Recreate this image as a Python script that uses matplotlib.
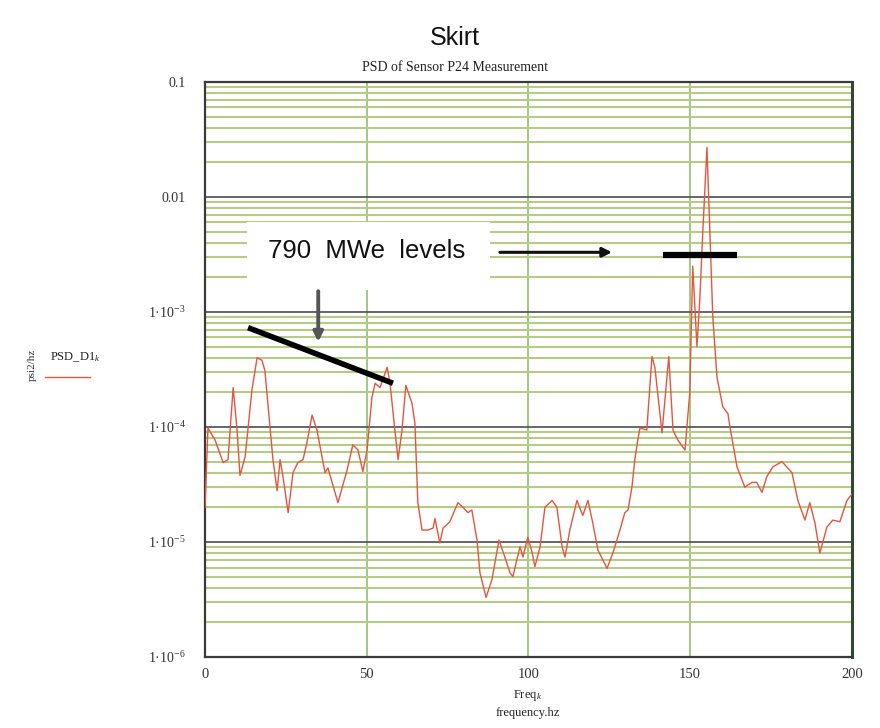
import numpy as np
import matplotlib
matplotlib.use("Agg")
import matplotlib.pyplot as plt
from matplotlib.lines import Line2D
from matplotlib.patches import Rectangle
from matplotlib.ticker import FixedLocator, FuncFormatter

plt.rcParams['font.family'] = ['Liberation Serif', 'DejaVu Serif']
plt.rcParams['mathtext.fontset'] = 'custom'
plt.rcParams['mathtext.rm'] = 'Liberation Serif'
plt.rcParams['mathtext.it'] = 'Liberation Serif:italic'

# PSD trace (frequency in hz, psi^2/hz)
freq = [0.0, 0.9, 3.1, 5.6, 7.1, 8.7, 9.9, 10.8, 12.4, 14.5, 16.1, 17.6, 18.5,
        20.1, 21.0, 22.3, 23.2, 24.1, 25.7, 27.2, 28.7, 30.3, 31.5, 33.1, 34.6,
        37.1, 38.0, 41.1, 43.9, 45.7, 47.3, 48.8, 50.1, 51.6, 52.6, 54.1, 56.3,
        57.2, 58.7, 59.7, 60.9, 62.1, 64.0, 64.9, 65.8, 67.1, 68.9, 70.5, 71.1,
        72.6, 73.6, 75.7, 78.2, 79.8, 81.3, 82.5, 84.1, 85.0, 86.9, 88.7, 90.9,
        92.7, 94.3, 95.2, 96.4, 97.4, 98.3, 99.8, 101.1, 102.0, 103.6, 105.1,
        107.3, 108.8, 110.4, 111.3, 112.8, 115.0, 116.8, 118.4, 119.9, 121.5,
        124.3, 126.1, 128.3, 129.8, 130.8, 132.0, 132.9, 133.8, 134.5, 136.6,
        138.2, 139.1, 141.3, 142.2, 143.4, 144.7, 146.2, 148.4, 149.9, 150.8,
        152.1, 153.0, 153.9, 155.2, 156.1, 157.0, 158.3, 160.1, 161.7, 162.3,
        164.5, 166.9, 169.1, 170.6, 172.2, 173.7, 175.6, 178.4, 181.5, 183.3,
        185.5, 187.0, 188.6, 190.1, 192.3, 194.1, 196.3, 198.5, 200.0]
psd = [2.0e-5, 9.8e-5, 7.7e-5, 4.9e-5, 5.2e-5, 2.2e-4, 9.4e-5, 3.8e-5, 5.5e-5,
       2.1e-4, 4.0e-4, 3.8e-4, 3.1e-4, 1.0e-4, 5.2e-5, 2.8e-5, 5.2e-5, 3.7e-5,
       1.8e-5, 4.0e-5, 4.9e-5, 5.2e-5, 7.3e-5, 1.27e-4, 9.4e-5, 4.0e-5, 4.4e-5,
       2.2e-5, 4.2e-5, 7.0e-5, 6.3e-5, 4.1e-5, 6.3e-5, 1.8e-4, 2.4e-4, 2.2e-4,
       3.3e-4, 2.4e-4, 9.4e-5, 5.2e-5, 9.4e-5, 2.3e-4, 1.6e-4, 1.08e-4, 2.2e-5,
       1.27e-5, 1.27e-5, 1.32e-5, 1.6e-5, 9.8e-6, 1.32e-5, 1.5e-5, 2.2e-5,
       2.0e-5, 1.8e-5, 1.9e-5, 1.04e-5, 5.4e-6, 3.3e-6, 4.7e-6, 1.04e-5, 7.4e-6,
       5.4e-6, 5.0e-6, 7.0e-6, 9.1e-6, 7.4e-6, 1.1e-5, 8.2e-6, 6.1e-6, 9.1e-6,
       2.0e-5, 2.3e-5, 2.0e-5, 9.1e-6, 7.4e-6, 1.27e-5, 2.3e-5, 1.7e-5, 2.3e-5,
       1.46e-5, 8.5e-6, 5.9e-6, 8.0e-6, 1.27e-5, 1.8e-5, 1.9e-5, 3.0e-5, 5.2e-5,
       7.7e-5, 9.8e-5, 9.4e-5, 4.1e-4, 3.3e-4, 8.9e-5, 1.7e-4, 4.1e-4, 9.4e-5,
       7.7e-5, 6.3e-5, 2.0e-4, 2.5e-3, 5.0e-4, 1.3e-3, 4.9e-3, 2.7e-2, 4.9e-3,
       9.1e-4, 2.7e-4, 1.5e-4, 1.3e-4, 1.0e-4, 4.5e-5, 3.0e-5, 3.3e-5, 3.3e-5,
       2.7e-5, 3.7e-5, 4.5e-5, 5.0e-5, 4.0e-5, 2.3e-5, 1.55e-5, 2.2e-5, 1.46e-5,
       8.0e-6, 1.35e-5, 1.55e-5, 1.5e-5, 2.3e-5, 2.6e-5]

x_ticks = [0, 50, 100, 150, 200]
y_ticks = [1e-6, 1e-5, 1e-4, 1e-3, 1e-2, 1e-1]

# annotation: the two "790 MWe levels" marks
level_low = ([13.3, 58.1], [7.3e-4, 2.4e-4])
level_high = ([141.6, 164.5], [3.1e-3, 3.1e-3])


def ylab(v, pos):
    if v >= 0.01:
        return "%g" % v
    e = int(round(np.log10(v)))
    return "1\u00b710$^{%d}$" % e


fig = plt.figure(figsize=(8.8, 7.28), dpi=100)
ax = fig.add_axes([0.233, 0.0975, 0.735, 0.79])

ax.set_yscale('log')
ax.set_xlim(0, 200)
ax.set_ylim(1e-6, 0.1)

# grid like the original worksheet plot
ax.yaxis.set_major_locator(FixedLocator(y_ticks))
ax.yaxis.set_major_formatter(FuncFormatter(ylab))
ax.xaxis.set_major_locator(FixedLocator(x_ticks))
ax.grid(True, which='minor', axis='y', color='#b5cb86', lw=1.5)
ax.grid(True, which='major', axis='y', color='#4d4d4d', lw=1.2)
ax.grid(True, which='major', axis='x', color='#94c06a', lw=1.2)
ax.tick_params(which='both', length=0)
ax.tick_params(axis='y', pad=14, labelsize=10, labelcolor='#333333')
ax.tick_params(axis='x', pad=8, labelsize=10.5, labelcolor='#333333')
ax.set_axisbelow(True)
for s in ['left', 'right', 'top', 'bottom']:
    ax.spines[s].set_color('#3a3a3a')
    ax.spines[s].set_linewidth(1.6)
ax.spines['right'].set_color('#2f4a2f')
ax.spines['right'].set_linewidth(2.2)

ax.plot(freq, psd, color='#e5553f', lw=1.0, zorder=3)

# white box behind the annotation text
ax.add_patch(Rectangle((13, 1.55e-3), 75, 6.1e-3 - 1.55e-3, facecolor='white',
                       edgecolor='none', zorder=2))
ax.text(50, 3.4e-3, "790  MWe  levels", family=['Liberation Sans'], fontsize=18.5,
        ha='center', va='center', color='#111111', zorder=4)
ax.annotate("", xy=(126.7, 3.3e-3), xytext=(90.3, 3.3e-3),
            arrowprops=dict(arrowstyle='-|>', color='#111111', lw=2.2,
                            mutation_scale=14), zorder=4)
ax.annotate("", xy=(35.0, 5.2e-4), xytext=(35.0, 1.6e-3),
            arrowprops=dict(arrowstyle='-|>', color='#555555', lw=2.8,
                            mutation_scale=14), zorder=4)
ax.plot(level_low[0], level_low[1], color='black', lw=4, solid_capstyle='butt', zorder=4)
ax.plot(level_high[0], level_high[1], color='black', lw=4.5, solid_capstyle='butt', zorder=4)

# titles and labels
fig.text(0.517, 0.948, "Skirt", family=['Liberation Sans'], fontsize=18,
         ha='center', va='center', color='#111111')
fig.text(0.517, 0.907, "PSD of Sensor P24 Measurement", fontsize=10,
         ha='center', va='center', color='#222222')
fig.text(0.037, 0.499, "psi2/hz", fontsize=8, rotation=90, ha='center',
         va='center', color='#333333')
fig.text(0.057, 0.51, "PSD_D1$_k$", fontsize=9, ha='left', va='center',
         color='#222222')
fig.add_artist(Line2D([45 / 880, 90 / 880], [1 - 377 / 728, 1 - 377 / 728],
                      color='#e5553f', lw=1.0))
fig.text(0.6, 0.045, "Freq$_k$", fontsize=9, ha='center', va='center',
         color='#222222')
fig.text(0.6, 0.021, "frequency.hz", fontsize=9, ha='center', va='center',
         color='#222222')

plt.savefig("out.png", dpi=100)
